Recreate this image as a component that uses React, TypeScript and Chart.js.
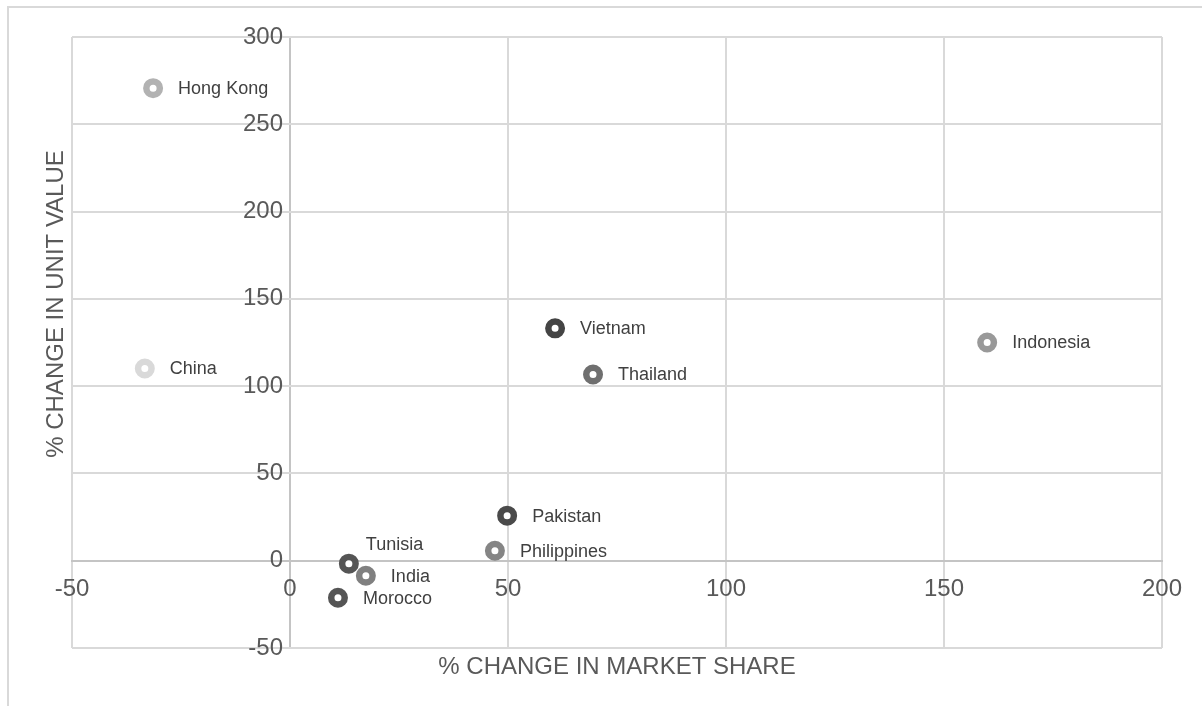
import React, { useEffect, useRef } from "react";
import { Chart, registerables } from "chart.js";

Chart.register(...registerables);

const countries = ["Hong Kong", "China", "Vietnam", "Thailand", "Indonesia", "Pakistan", "Philippines", "Tunisia", "India", "Morocco"];
const marketShareChange = [-31.4, -33.3, 60.8, 69.5, 159.9, 49.8, 47.0, 13.5, 17.4, 11.0];
const unitValueChange = [270.7, 110.1, 133.1, 106.7, 125.0, 25.8, 5.7, -1.7, -8.6, -21.2];
const pointColors = ["#b2b2b2", "#d9d9d9", "#444444", "#6f6f6f", "#999999", "#4a4a4a", "#858585", "#555555", "#808080", "#555555"];
const labelPlacement = ["right", "right", "right", "right", "right", "right", "right", "above", "right", "right"];

const xTitle = "% CHANGE IN MARKET SHARE";
const yTitle = "% CHANGE IN UNIT VALUE";

const FONT = "'Liberation Sans', Arial, Helvetica, sans-serif";
const GRID = "#d9d9d9";
const AXIS = "#c4c4c4";

const labelsPlugin = {
  id: "pointLabels",
  afterDatasetsDraw(chart: any) {
    const ctx = chart.ctx;
    const meta = chart.getDatasetMeta(0);
    ctx.save();
    ctx.font = `18px ${FONT}`;
    ctx.fillStyle = "#404040";
    ctx.textAlign = "left";
    ctx.textBaseline = "middle";
    meta.data.forEach((pt: any, i: number) => {
      if (labelPlacement[i] === "above") {
        ctx.fillText(countries[i], pt.x + 17, pt.y - 19);
      } else {
        ctx.fillText(countries[i], pt.x + 25, pt.y + 1);
      }
    });
    ctx.restore();
  },
};

const titlesPlugin = {
  id: "axisTitles",
  afterDraw(chart: any) {
    const ctx = chart.ctx;
    const area = chart.chartArea;
    ctx.save();
    ctx.font = `24px ${FONT}`;
    ctx.fillStyle = "#595959";
    ctx.textAlign = "center";
    ctx.textBaseline = "middle";
    ctx.fillText(xTitle, (area.left + area.right) / 2, area.bottom + 19);
    ctx.translate(area.left - 16, area.top + 267);
    ctx.rotate(-Math.PI / 2);
    ctx.fillText(yTitle, 0, 0);
    ctx.restore();
  },
};

export default function App() {
  const canvasRef = useRef<HTMLCanvasElement | null>(null);

  useEffect(() => {
    if (!canvasRef.current) return;
    const points = marketShareChange.map((x, i) => ({ x, y: unitValueChange[i] }));
    const chart = new Chart(canvasRef.current, {
      type: "scatter",
      data: {
        datasets: [
          {
            data: points,
            pointRadius: 6.75,
            pointHoverRadius: 6.75,
            pointBorderWidth: 6.5,
            pointBackgroundColor: "#ffffff",
            pointBorderColor: pointColors,
            showLine: false,
          },
        ],
      },
      options: {
        animation: false,
        responsive: false,
        maintainAspectRatio: false,
        layout: { padding: { left: 72, top: 37, right: 40, bottom: 58 } },
        plugins: {
          legend: { display: false },
          tooltip: { enabled: false },
          title: { display: false },
        },
        scales: {
          x: {
            type: "linear",
            min: -50,
            max: 200,
            position: { y: 0 } as any,
            ticks: {
              stepSize: 50,
              color: "#595959",
              font: { size: 24, family: FONT },
              padding: 14,
              autoSkip: false,
              maxRotation: 0,
            },
            grid: {
              color: (c: any) => (c.tick && c.tick.value === 0 ? AXIS : GRID),
              lineWidth: 2,
              drawTicks: false,
            },
            border: { display: true, color: AXIS, width: 2 },
          },
          y: {
            type: "linear",
            min: -50,
            max: 300,
            // labels sit just left of the x = 0 line
            position: { x: -1.6 } as any,
            ticks: {
              stepSize: 50,
              color: "#595959",
              font: { size: 24, family: FONT },
              padding: 0,
              autoSkip: false,
            },
            grid: { color: GRID, lineWidth: 2, drawTicks: false },
            border: { display: false },
          },
        },
      },
      plugins: [labelsPlugin, titlesPlugin],
    });
    return () => chart.destroy();
  }, []);

  return (
    <div style={{ position: "fixed", left: 0, top: 0, width: 1202, height: 706, overflow: "hidden", background: "#ffffff" }}>
      <div
        style={{
          position: "absolute",
          left: 7,
          top: 6,
          width: 1300,
          height: 800,
          border: "2px solid #d9d9d9",
          boxSizing: "border-box",
        }}
      />
      <canvas
        ref={canvasRef}
        width={1202}
        height={706}
        style={{ position: "absolute", left: 0, top: 0, width: 1202, height: 706 }}
      />
    </div>
  );
}
